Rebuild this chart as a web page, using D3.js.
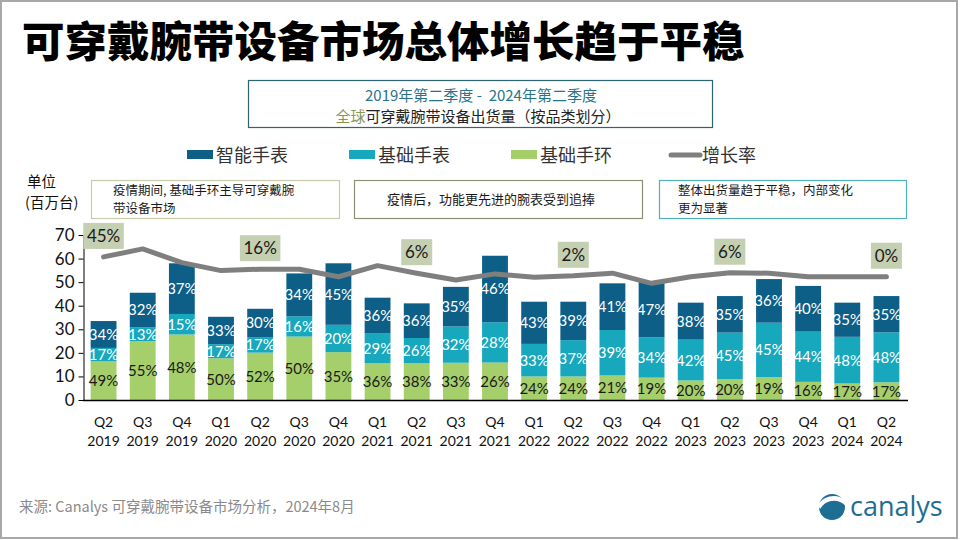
<!DOCTYPE html>
<html>
<head>
<meta charset="utf-8">
<script src="https://cdn.jsdelivr.net/npm/d3@7/dist/d3.min.js"></script>
<style>
  html, body { margin: 0; padding: 0; background: #fff; }
  svg { display: block; }
</style>
</head>
<body>
<svg id="chart" width="960" height="540"></svg>
<script>
// ---------------- DATA ----------------
const quarters = ["Q2","Q3","Q4","Q1","Q2","Q3","Q4","Q1","Q2","Q3","Q4","Q1","Q2","Q3","Q4","Q1","Q2","Q3","Q4","Q1","Q2"];
const years    = ["2019","2019","2019","2020","2020","2020","2020","2021","2021","2021","2021","2022","2022","2022","2022","2023","2023","2023","2023","2024","2024"];

// Shipments, millions of units
const basicBand  = [16.4, 25.0, 27.8, 17.7, 20.1, 26.9, 20.3, 15.6, 15.6, 15.8, 15.9, 10.0, 10.0, 10.4, 9.5, 8.3, 8.8, 9.7, 7.7, 7.0, 7.5];
const basicWatch = [5.7, 5.9, 8.7, 6.0, 6.6, 8.6, 11.6, 12.6, 10.7, 15.4, 17.1, 13.8, 15.4, 19.3, 17.1, 17.3, 19.8, 23.1, 21.3, 19.8, 21.2];
const smartWatch = [11.4, 14.6, 21.5, 11.6, 12.0, 18.2, 26.1, 15.2, 14.7, 16.8, 28.2, 17.9, 16.3, 19.8, 23.6, 15.7, 15.5, 18.5, 19.4, 14.5, 15.4];

// Share labels shown in each segment
const bandShare  = ["49%","55%","48%","50%","52%","50%","35%","36%","38%","33%","26%","24%","24%","21%","19%","20%","20%","19%","16%","17%","17%"];
const basicShare = ["17%","13%","15%","17%","17%","16%","20%","29%","26%","32%","28%","33%","37%","39%","34%","42%","45%","45%","44%","48%","48%"];
const smartShare = ["34%","32%","37%","33%","30%","34%","45%","36%","36%","35%","46%","43%","39%","41%","47%","38%","35%","36%","40%","35%","35%"];

// Growth-rate line (drawn position, on the chart's value scale)
const growthLine = [60.7, 64.1, 58.3, 54.9, 55.5, 55.5, 52.3, 57.0, 53.8, 50.9, 53.5, 52.1, 52.7, 53.8, 49.5, 52.3, 54.0, 53.8, 52.3, 52.3, 52.3];
const growthLabelIdx = [0, 4, 8, 12, 16, 20];
const growthLabels   = ["45%", "16%", "6%", "2%", "6%", "0%"];

const yTicks = [0, 10, 20, 30, 40, 50, 60, 70];

const seriesNames  = ["智能手表", "基础手表", "基础手环", "增长率"];
const seriesColors = ["#0e5f88", "#18a8bd", "#a5cf6b", "#7f7f7f"];

const notes = [
  {lines: ["疫情期间, 基础手环主导可穿戴腕", "带设备市场"], stroke: "#c8ccaa"},
  {lines: ["疫情后，功能更先进的腕表受到追捧"], stroke: "#8f8f78"},
  {lines: ["整体出货量趋于平稳，内部变化", "更为显著"], stroke: "#4fb0c0"}
];

// ---------------- DRAW ----------------
const svg = d3.select("#chart");
const CJK = "'Noto Sans CJK SC', 'Noto Sans', sans-serif";
const NUM = "Lato, 'Noto Sans', sans-serif";

// frame
svg.append("rect").attr("x", 1).attr("y", 1).attr("width", 956).attr("height", 537)
  .attr("fill", "#fff").attr("stroke", "#a8a8a8").attr("stroke-width", 2);

// title
svg.append("text").attr("x", 22).attr("y", 57)
  .attr("font-family", CJK).attr("font-weight", 900).attr("font-size", 42.5)
  .attr("fill", "#000").text("可穿戴腕带设备市场总体增长趋于平稳");

// subtitle box
svg.append("rect").attr("x", 248.5).attr("y", 80.5).attr("width", 464).attr("height", 47)
  .attr("fill", "#fff").attr("stroke", "#2a6475").attr("stroke-width", 1.2);
svg.append("text").attr("x", 481).attr("y", 101).attr("text-anchor", "middle")
  .attr("font-family", CJK).attr("font-size", 15).attr("fill", "#2b7488")
  .text("2019年第二季度 -\u00a0 2024年第二季度");
const st2 = svg.append("text").attr("x", 478).attr("y", 122).attr("text-anchor", "middle")
  .attr("font-family", CJK).attr("font-size", 15);
st2.append("tspan").attr("fill", "#86975a").text("全球");
st2.append("tspan").attr("fill", "#222").text("可穿戴腕带设备出货量（按品类划分）");

// legend
const legendX = [187, 349, 511, 670];
seriesNames.forEach((name, i) => {
  const g = svg.append("g").attr("transform", `translate(${legendX[i]},0)`);
  if (i < 3) {
    g.append("rect").attr("x", 0).attr("y", 150).attr("width", 26).attr("height", 9).attr("fill", seriesColors[i]);
  } else {
    g.append("line").attr("x1", 1).attr("x2", 30).attr("y1", 155).attr("y2", 155)
      .attr("stroke", seriesColors[i]).attr("stroke-width", 5).attr("stroke-linecap", "round");
  }
  g.append("text").attr("x", i < 3 ? 29 : 32).attr("y", 161.5)
    .attr("font-family", CJK).attr("font-size", 18).attr("fill", "#333").text(name);
});

// unit label
svg.append("text").attr("x", 27).attr("y", 187).attr("font-family", CJK).attr("font-size", 14.5).attr("fill", "#111").text("单位");
svg.append("text").attr("x", 25).attr("y", 208).attr("font-family", CJK).attr("font-size", 14.5).attr("fill", "#111").text("(百万台)");

// annotation boxes
const noteBoxes = [[91, 180, 248, 38], [354, 180, 288, 38], [659, 180, 247, 38]];
notes.forEach((n, i) => {
  const [bx, by, bw, bh] = noteBoxes[i];
  svg.append("rect").attr("x", bx + 0.5).attr("y", by + 0.5).attr("width", bw).attr("height", bh)
    .attr("fill", "#fff").attr("stroke", n.stroke).attr("stroke-width", 1.2);
  if (n.lines.length === 1) {
    svg.append("text").attr("x", bx + 33).attr("y", by + 24)
      .attr("font-family", CJK).attr("font-size", 13).attr("fill", "#1a1a1a").text(n.lines[0]);
  } else {
    n.lines.forEach((l, j) => {
      svg.append("text").attr("x", bx + (i === 0 ? 22 : 19)).attr("y", by + 15 + j * 18)
        .attr("font-family", CJK).attr("font-size", 12.5).attr("fill", "#1a1a1a").text(l);
    });
  }
});

// scales
const idx = d3.range(quarters.length);
const x = d3.scaleBand().domain(idx).range([84, 906]).paddingInner(0.34).paddingOuter(0.17);
const y = d3.scaleLinear().domain([0, 70]).range([400, 235]);

// y axis
const yAxis = svg.append("g").attr("transform", "translate(83.5,0)")
  .call(d3.axisLeft(y).tickValues(yTicks).tickSize(5).tickSizeOuter(0).tickPadding(4));
yAxis.select(".domain").attr("stroke", "#000");
yAxis.selectAll(".tick line").attr("stroke", "#000");
yAxis.selectAll(".tick text").attr("font-family", NUM).attr("font-size", 17).attr("fill", "#111");

// stacked bars
const table = idx.map(i => ({i, band: basicBand[i], basic: basicWatch[i], smart: smartWatch[i]}));
const stack = d3.stack().keys(["band", "basic", "smart"])(table);
const segColors = {band: seriesColors[2], basic: seriesColors[1], smart: seriesColors[0]};
const segLabels = {band: bandShare, basic: basicShare, smart: smartShare};
const segText = {band: "#1a1a1a", basic: "#ffffff", smart: "#ffffff"};

stack.forEach(layer => {
  const key = layer.key;
  svg.append("g").selectAll("rect").data(layer).join("rect")
    .attr("x", d => x(d.data.i))
    .attr("y", d => y(d[1]))
    .attr("width", x.bandwidth())
    .attr("height", d => y(d[0]) - y(d[1]))
    .attr("fill", segColors[key]);
});
stack.forEach(layer => {
  const key = layer.key;
  svg.append("g").selectAll("text").data(layer).join("text")
    .attr("x", d => x(d.data.i) + x.bandwidth() / 2)
    .attr("y", d => (y(d[0]) + y(d[1])) / 2 + 5.5)
    .attr("text-anchor", "middle")
    .attr("font-family", NUM).attr("font-size", 15)
    .attr("fill", segText[key])
    .text(d => segLabels[key][d.data.i]);
});

// x axis baseline
svg.append("line").attr("x1", 83).attr("x2", 908).attr("y1", 400.5).attr("y2", 400.5)
  .attr("stroke", "#000").attr("stroke-width", 1.3);

// x labels
const xl = svg.append("g");
idx.forEach(i => {
  const cx = x(i) + x.bandwidth() / 2;
  xl.append("text").attr("x", cx).attr("y", 427).attr("text-anchor", "middle")
    .attr("font-family", NUM).attr("font-size", 14).attr("fill", "#111").text(quarters[i]);
  xl.append("text").attr("x", cx).attr("y", 446).attr("text-anchor", "middle")
    .attr("font-family", NUM).attr("font-size", 14).attr("fill", "#111").text(years[i]);
});

// growth line
const line = d3.line().x(i => x(i) + x.bandwidth() / 2).y(i => y(growthLine[i]));
svg.append("path").attr("d", line(idx)).attr("fill", "none")
  .attr("stroke", seriesColors[3]).attr("stroke-width", 5)
  .attr("stroke-linejoin", "round").attr("stroke-linecap", "round");

// growth labels
growthLabelIdx.forEach((gi, k) => {
  const cx = x(gi) + x.bandwidth() / 2;
  const cy = y(growthLine[gi]) - 21;
  const t = growthLabels[k];
  const w = t.length * 9.5 + 12;
  svg.append("rect").attr("x", cx - w / 2).attr("y", cy - 13).attr("width", w).attr("height", 26)
    .attr("fill", "#c5cfb1");
  svg.append("text").attr("x", cx).attr("y", cy + 6).attr("text-anchor", "middle")
    .attr("font-family", NUM).attr("font-size", 17).attr("fill", "#1a1a1a").text(t);
});

// footer
svg.append("text").attr("x", 19).attr("y", 512)
  .attr("font-family", CJK).attr("font-size", 14.5).attr("fill", "#8a8a8a")
  .text("来源: Canalys 可穿戴腕带设备市场分析，2024年8月");

// logo
const logo = svg.append("g").attr("transform", "translate(832,507)");
logo.append("circle").attr("r", 13).attr("fill", "#1e6d92");
logo.append("path").attr("d", "M-14,-2 C-8,-12 6,-14 14,-6 L14,-1 C6,-9 -6,-8 -12,2 Z").attr("fill", "#fff");
svg.append("text").attr("x", 850).attr("y", 516)
  .attr("font-family", "'Open Sans', Lato, sans-serif").attr("font-size", 27).attr("fill", "#1e6d92")
  .text("canalys");
</script>
</body>
</html>
